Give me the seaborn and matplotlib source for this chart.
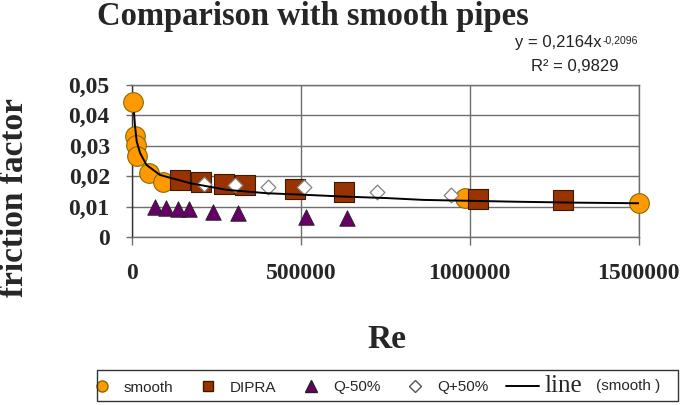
import matplotlib
matplotlib.use("Agg")
import matplotlib.pyplot as plt
import seaborn as sns
import pandas as pd
from matplotlib.patches import Rectangle
from matplotlib.text import Annotation

# values
smooth_re = [4000, 9000, 12000, 16000, 51000, 93000, 987000, 1500000]
smooth_f = [0.0443, 0.0331, 0.0303, 0.0265, 0.0210, 0.0182, 0.0128, 0.0111]

dipra_re = [142000, 204000, 271000, 335000, 483000, 629000, 1024000, 1276000]
dipra_f = [0.0188, 0.0182, 0.0174, 0.0171, 0.0157, 0.0147, 0.0124, 0.0122]

qminus_re = [68000, 101000, 135000, 170000, 241000, 315000, 515000, 636000]
qminus_f = [0.0100, 0.0097, 0.0091, 0.0091, 0.0083, 0.0078, 0.0067, 0.0064]

qplus_re = [214000, 305000, 404000, 508000, 725000, 945000]
qplus_f = [0.0175, 0.0171, 0.0163, 0.0163, 0.0149, 0.0138]

line_re = [6000, 9000, 14000, 24000, 43000, 83000, 172000, 281000, 399000,
           528000, 626000, 755000, 863000, 1140000, 1313000, 1500000]
line_f = [0.0408, 0.0364, 0.0314, 0.0276, 0.0237, 0.0204, 0.0177, 0.0155, 0.0144,
          0.0138, 0.0133, 0.0128, 0.0122, 0.0116, 0.0113, 0.0111]

x_ticks = [0, 500000, 1000000, 1500000]
x_tick_labels = ["0", "500000", "1000000", "1500000"]
y_ticks = [0, 0.01, 0.02, 0.03, 0.04, 0.05]
y_tick_labels = ["0", "0,01", "0,02", "0,03", "0,04", "0,05"]

sns.set_style("white")
plt.rcParams["font.family"] = ["Liberation Sans", "DejaVu Sans"]
serif = ["Liberation Serif", "DejaVu Serif"]

fig = plt.figure(figsize=(6.85, 4.05), dpi=100)
ax = fig.add_axes([132 / 685, 1 - 237 / 405, 506.7 / 685, 152 / 405])

grid_col = "#6e6e6e"
sns.scatterplot(x=smooth_re, y=smooth_f, ax=ax, marker="o", s=200, color="#ff9900",
                edgecolor="#8a6a00", linewidth=0.8, clip_on=False, zorder=3)
sns.scatterplot(x=dipra_re, y=dipra_f, ax=ax, marker="s", s=205, color="#993300",
                edgecolor="#3a1a00", linewidth=0.8, clip_on=False, zorder=4)
sns.scatterplot(x=qminus_re, y=qminus_f, ax=ax, marker="^", s=125, color="#660066",
                edgecolor="#222222", linewidth=0.6, clip_on=False, zorder=4)
sns.scatterplot(x=qplus_re, y=qplus_f, ax=ax, marker="D", s=56, color="white",
                edgecolor="#808080", linewidth=0.9, clip_on=False, zorder=5)
line_df = pd.DataFrame({"Re": line_re, "f": line_f})
sns.lineplot(data=line_df, x="Re", y="f", ax=ax, color="black", lw=1.4,
             sort=False, estimator=None, zorder=6)

ax.set_xlim(0, 1500000)
ax.set_ylim(0, 0.05)
ax.set_xticks(x_ticks)
ax.set_xticklabels(x_tick_labels)
ax.set_yticks(y_ticks)
ax.set_yticklabels(y_tick_labels)
ax.grid(True, color=grid_col, lw=1)
ax.set_axisbelow(True)
for sp in ax.spines.values():
    sp.set_color(grid_col)
    sp.set_linewidth(1)
ax.spines["left"].set_color("#333333")

ax.tick_params(axis="x", direction="out", length=6, width=1, color=grid_col, pad=13,
               bottom=True)
ax.tick_params(axis="y", direction="out", length=4, width=1, color=grid_col, pad=12,
               left=True)
for lab in ax.get_xticklabels() + ax.get_yticklabels():
    lab.set_fontfamily(serif)
    lab.set_fontweight("bold")
    lab.set_fontsize(17)

ax.set_xlabel("Re", family=serif, fontweight="bold", fontsize=24)
ax.xaxis.set_label_coords(387 / 685, 1 - 339 / 405, transform=fig.transFigure)
ax.xaxis.label.set_va("center")
ax.set_ylabel("friction factor", family=serif, fontweight="bold", fontsize=24)
ax.yaxis.set_label_coords(15 / 685, 1 - 198 / 405, transform=fig.transFigure)
ax.yaxis.label.set_va("center")

fig.text(313 / 685, 1 - 25 / 405, "Comparison with smooth pipes", family=serif,
         fontweight="bold", fontsize=23.5, ha="center", va="baseline")

eq = fig.text(515 / 685, 1 - 47 / 405, "y = 0,2164x", fontsize=12, va="baseline",
              color="#222222")
ax.annotate("-0,2096", xy=(1, 1), xycoords=eq, xytext=(1, -0.5),
            textcoords="offset points", fontsize=7.5, va="top", color="#222222")
fig.text(575 / 685, 1 - 71 / 405, "R\u00b2 = 0,9829", fontsize=12, ha="center",
         va="baseline", color="#222222")

# legend entries, with a separate frame drawn around them
handles = [
    plt.Line2D([], [], ls="", marker="o", ms=8, mfc="#ff9900", mec="#8a6a00"),
    plt.Line2D([], [], ls="", marker="s", ms=7, mfc="#993300", mec="#3a1a00"),
    plt.Line2D([], [], ls="", marker="^", ms=8, mfc="#660066", mec="#222222"),
    plt.Line2D([], [], ls="", marker="D", ms=6, mfc="white", mec="#555555"),
    plt.Line2D([], [], color="black", lw=1.4),
]
labels = ["smooth", "DIPRA", "Q-50%", "Q+50%", "line"]
leg = fig.legend(handles, labels, loc="center left",
                 bbox_to_anchor=(85 / 685, 1 - 385.5 / 405),
                 ncol=5, fontsize=11, frameon=False, borderpad=0, borderaxespad=0,
                 handlelength=2.2, handletextpad=0.35, columnspacing=1.15)
line_txt = leg.get_texts()[-1]
line_txt.set_fontfamily(serif)
line_txt.set_fontsize(18)
fig.add_artist(Annotation("(smooth )", xy=(1, 0), xycoords=line_txt, xytext=(10, 2.5),
                          textcoords="offset points", fontsize=11, va="bottom", zorder=10))
fig.add_artist(Rectangle((97 / 685, 1 - 401 / 405), 581 / 685, 31 / 405,
                         transform=fig.transFigure, fill=False, ec="#333333", lw=1,
                         zorder=9))

fig.canvas.draw()
fig.savefig("out.png", dpi=100, facecolor="white")
